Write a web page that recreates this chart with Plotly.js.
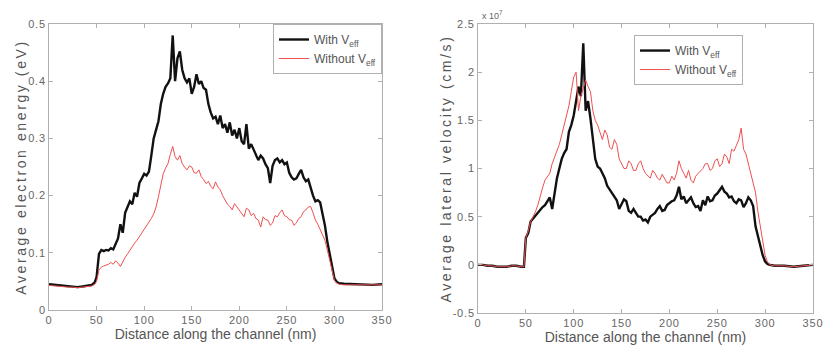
<!DOCTYPE html>
<html>
<head>
<meta charset="utf-8">
<script src="https://cdn.plot.ly/plotly-3.0.1.min.js"></script>
<style>
html,body{margin:0;padding:0;background:#fff;}
#chart{width:827px;height:354px;}
#chart .ytitle, #chart .y2title{letter-spacing:2.6px;}
#chart .xtick text, #chart .x2tick text, #chart .ytick text, #chart .y2tick text{letter-spacing:0.8px;}
</style>
</head>
<body>
<div id="chart"></div>
<script>
// Distance along the channel (nm)
const distance = [
  0,5,10,15,20,25,30,35,40,45,48,
  50,52.5,55,57.5,60,62.5,65,67.5,70,72.5,
  75,77.5,80,82.5,85,87.5,90,92.5,95,97.5,
  100,102.5,105,107.5,110,112.5,115,117.5,120,122.5,
  125,127.5,130,132.5,135,137.5,140,142.5,145,147.5,
  150,152.5,155,157.5,160,162.5,165,167.5,170,172.5,
  175,177.5,180,182.5,185,187.5,190,192.5,195,197.5,
  200,202.5,205,207.5,210,212.5,215,217.5,220,222.5,
  225,227.5,230,232.5,235,237.5,240,242.5,245,247.5,
  250,252.5,255,257.5,260,262.5,265,267.5,270,272.5,
  275,277.5,280,282.5,285,287.5,290,292.5,295,297.5,
  300,302.5,305,310,320,330,340,350
];

// Average electron energy (eV)
const energyWith = [
  0.045,0.044,0.043,0.042,0.041,0.041,0.040,0.041,0.042,0.044,0.048,
  0.058,0.098,0.105,0.103,0.105,0.104,0.108,0.106,0.115,0.125,
  0.150,0.135,0.170,0.180,0.190,0.185,0.205,0.198,0.222,0.230,
  0.238,0.235,0.242,0.270,0.300,0.315,0.330,0.360,0.378,0.390,
  0.396,0.405,0.480,0.400,0.440,0.452,0.420,0.405,0.398,0.405,
  0.378,0.390,0.412,0.395,0.400,0.388,0.385,0.360,0.345,0.335,
  0.338,0.325,0.340,0.318,0.325,0.310,0.328,0.305,0.315,0.300,
  0.318,0.295,0.290,0.325,0.282,0.290,0.280,0.272,0.262,0.270,
  0.265,0.255,0.248,0.222,0.252,0.262,0.265,0.258,0.262,0.255,
  0.258,0.240,0.232,0.228,0.230,0.238,0.245,0.232,0.225,0.228,
  0.212,0.200,0.190,0.192,0.188,0.168,0.148,0.120,0.098,0.075,
  0.055,0.049,0.047,0.046,0.045,0.044,0.044,0.045
];
const energyWithout = [
  0.043,0.042,0.041,0.040,0.040,0.040,0.039,0.040,0.041,0.042,0.045,
  0.050,0.070,0.075,0.077,0.078,0.080,0.083,0.080,0.086,0.082,
  0.076,0.085,0.092,0.098,0.105,0.110,0.117,0.122,0.128,0.134,
  0.140,0.147,0.154,0.160,0.168,0.180,0.198,0.218,0.238,0.248,
  0.256,0.272,0.286,0.268,0.262,0.270,0.256,0.250,0.245,0.252,
  0.250,0.240,0.239,0.245,0.233,0.228,0.221,0.225,0.216,0.212,
  0.224,0.215,0.210,0.200,0.192,0.185,0.181,0.175,0.186,0.180,
  0.175,0.170,0.163,0.178,0.175,0.165,0.169,0.160,0.157,0.145,
  0.163,0.158,0.157,0.148,0.152,0.165,0.163,0.170,0.175,0.165,
  0.163,0.158,0.157,0.148,0.152,0.160,0.163,0.172,0.175,0.180,
  0.181,0.170,0.157,0.150,0.140,0.130,0.122,0.105,0.087,0.070,
  0.052,0.047,0.045,0.044,0.044,0.043,0.043,0.044
];

// Average lateral velocity (x 10^7 cm/s)
const velocityWith = [
  0.00,0.00,-0.01,-0.01,-0.02,-0.02,-0.02,-0.01,-0.01,-0.02,-0.02,
  0.28,0.33,0.45,0.48,0.52,0.55,0.57,0.60,0.62,0.66,
  0.70,0.58,0.75,0.90,1.00,1.10,1.16,1.20,1.38,1.45,
  1.55,1.68,1.85,1.75,2.30,1.60,1.70,1.52,1.30,1.10,
  1.02,1.00,0.95,0.90,0.82,0.78,0.74,0.70,0.67,0.58,
  0.64,0.68,0.66,0.56,0.54,0.58,0.54,0.50,0.50,0.46,
  0.47,0.44,0.50,0.52,0.54,0.58,0.61,0.56,0.57,0.62,
  0.64,0.66,0.67,0.72,0.81,0.68,0.71,0.64,0.67,0.70,
  0.64,0.60,0.61,0.56,0.67,0.62,0.71,0.66,0.67,0.72,
  0.74,0.78,0.81,0.76,0.74,0.70,0.71,0.66,0.64,0.68,
  0.67,0.60,0.64,0.70,0.67,0.61,0.40,0.30,0.19,0.10,
  0.035,0.01,0.00,-0.01,-0.01,-0.02,-0.01,0.00
];
const velocityWithout = [
  0.00,0.00,-0.01,-0.01,-0.02,-0.02,-0.02,-0.01,-0.01,-0.02,-0.02,
  0.28,0.35,0.45,0.50,0.55,0.62,0.72,0.80,0.88,0.92,
  0.95,1.05,1.12,1.20,1.25,1.35,1.45,1.55,1.65,1.80,
  1.95,2.00,1.60,1.75,1.85,1.92,1.85,1.80,1.60,1.50,
  1.45,1.38,1.30,1.40,1.35,1.22,1.20,1.30,1.25,1.10,
  1.05,1.00,1.00,1.08,1.05,0.98,0.98,1.05,1.08,1.00,
  0.95,0.92,0.90,0.98,0.95,0.90,0.88,0.94,0.90,0.85,
  0.85,0.92,0.88,0.95,1.08,1.00,0.95,0.90,0.98,0.88,
  0.85,0.92,0.95,0.98,1.00,1.05,1.05,0.98,1.00,1.08,
  1.10,1.02,1.05,1.15,1.12,1.05,1.20,1.18,1.25,1.30,
  1.42,1.20,1.15,1.05,0.95,0.85,0.75,0.55,0.40,0.22,
  0.10,0.03,0.00,-0.01,-0.01,-0.02,-0.01,0.00
];

const xTicks = [0,50,100,150,200,250,300,350];
const energyTicks = [0,0.1,0.2,0.3,0.4,0.5];
const energyTickText = ['0','0.1','0.2','0.3','0.4','0.5'];
const velocityTicks = [-0.5,0,0.5,1,1.5,2,2.5];
const velocityTickText = ['-0.5','0','0.5','1','1.5','2','2.5'];
const seriesNames = ['With V<sub>eff</sub>','Without V<sub>eff</sub>'];

const blackLine = {color:'#111111', width:2.4};
const redLine = {color:'#ee5050', width:1};

const traces = [
  {x:distance, y:energyWith, name:seriesNames[0], mode:'lines', line:blackLine, xaxis:'x', yaxis:'y', legend:'legend'},
  {x:distance, y:energyWithout, name:seriesNames[1], mode:'lines', line:redLine, xaxis:'x', yaxis:'y', legend:'legend'},
  {x:distance, y:velocityWith, name:seriesNames[0], mode:'lines', line:blackLine, xaxis:'x2', yaxis:'y2', legend:'legend2'},
  {x:distance, y:velocityWithout, name:seriesNames[1], mode:'lines', line:redLine, xaxis:'x2', yaxis:'y2', legend:'legend2'}
];

const fam = 'Liberation Sans, Arial, sans-serif';
const tickFont = {family:fam, size:11, color:'#666'};
const xTitleFont = {family:fam, size:14, color:'#555'};
const yTitleFont = {family:fam, size:14, color:'#555'};
function axisBase(){
  return {showline:true, mirror:'ticks', linecolor:'#b0b0b0', linewidth:1, ticks:'inside', ticklen:4,
    tickcolor:'#b0b0b0', showgrid:false, zeroline:false, tickfont:tickFont, ticklabelstandoff:0};
}
const layout = {
  width:827, height:354,
  margin:{l:0,r:0,t:0,b:0},
  paper_bgcolor:'#fff', plot_bgcolor:'#fff',
  showlegend:true,
  xaxis:Object.assign(axisBase(), {domain:[0.0593,0.4619], range:[0,350], tickvals:xTicks, anchor:'y',
    title:{text:'Distance along the channel (nm)', font:xTitleFont, standoff:0}}),
  yaxis:Object.assign(axisBase(), {domain:[0.1243,0.9322], range:[0,0.5], tickvals:energyTicks, ticktext:energyTickText, anchor:'x',
    title:{text:'Average electron energy (eV)', font:yTitleFont, standoff:0}}),
  xaxis2:Object.assign(axisBase(), {domain:[0.578,0.983], range:[0,350], tickvals:xTicks, anchor:'y2',
    title:{text:'Distance along the channel (nm)', font:xTitleFont, standoff:0}}),
  yaxis2:Object.assign(axisBase(), {domain:[0.1158,0.9322], range:[-0.5,2.5], tickvals:velocityTicks, ticktext:velocityTickText, anchor:'x2',
    title:{text:'Average lateral velocity (cm/s)', font:yTitleFont, standoff:0}}),
  legend:{x:0.4619, y:0.9322, xanchor:'right', yanchor:'top', bgcolor:'#fff', bordercolor:'#b0b0b0', borderwidth:1,
    font:{family:fam, size:12, color:'#555'}, tracegroupgap:0, itemwidth:30},
  legend2:{x:0.7666, y:0.901, xanchor:'left', yanchor:'top', bgcolor:'#fff', bordercolor:'#b0b0b0', borderwidth:1,
    font:{family:fam, size:12, color:'#555'}, tracegroupgap:0, itemwidth:30},
  annotations:[
    {xref:'paper', yref:'paper', x:0.580, y:0.935, xanchor:'left', yanchor:'bottom', showarrow:false,
      text:'x 10<sup>7</sup>', font:{family:fam, size:9, color:'#666'}}
  ]
};
Plotly.newPlot('chart', traces, layout, {displayModeBar:false, staticPlot:true});
</script>
</body>
</html>
